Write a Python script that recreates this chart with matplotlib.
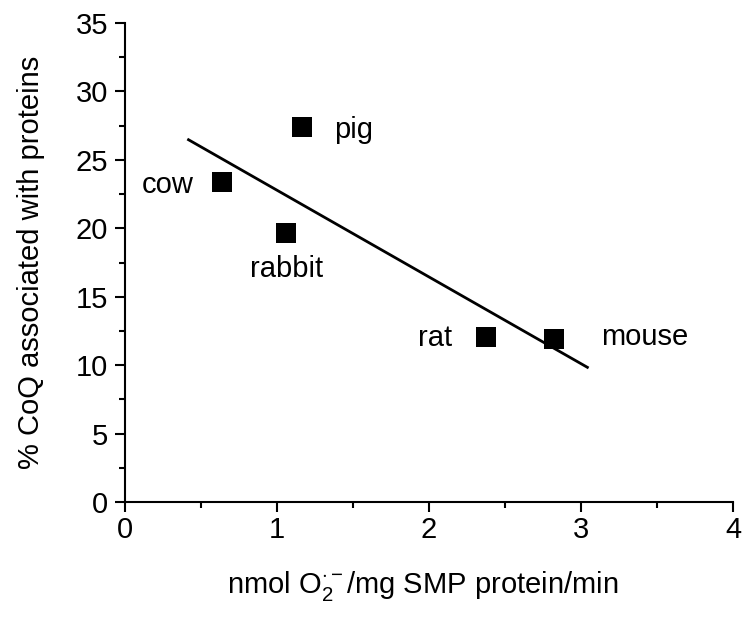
import matplotlib
matplotlib.use("Agg")
import matplotlib.pyplot as plt
from matplotlib.ticker import MultipleLocator

plt.rcParams['font.family'] = ['Liberation Sans', 'DejaVu Sans']
plt.rcParams['mathtext.fontset'] = 'custom'
plt.rcParams['mathtext.rm'] = 'Liberation Sans'
plt.rcParams['mathtext.it'] = 'Liberation Sans:italic'
plt.rcParams['mathtext.bf'] = 'Liberation Sans:bold'

# Data
species = ["cow", "pig", "rabbit", "rat", "mouse"]
x_vals = [0.638, 1.164, 1.061, 2.377, 2.822]
y_vals = [23.40, 27.40, 19.67, 12.06, 11.91]
fit_x = [0.41, 3.05]
fit_y = [26.52, 9.79]
x_ticks = [0, 1, 2, 3, 4]
y_ticks = [0, 5, 10, 15, 20, 25, 30, 35]

# label offsets (pixels) relative to each point
label_offsets = {"cow": (-54, -3), "pig": (52, -3), "rabbit": (0, -36),
                 "rat": (-51, -1), "mouse": (91, 2)}

FS = 21

fig = plt.figure(figsize=(7.51, 6.21), dpi=100)
ax = fig.add_axes([125/751, 119/621, 608/751, 479/621])

ax.plot(fit_x, fit_y, color='black', lw=2.0, solid_capstyle='butt')
ax.plot(x_vals, y_vals, linestyle='none', marker='s', markersize=15,
        color='black', markeredgewidth=0)

for name, xv, yv in zip(species, x_vals, y_vals):
    dx, dy = label_offsets[name]
    ax.annotate(name, (xv, yv), xytext=(dx, dy), textcoords='offset pixels',
                ha='center', va='center', fontsize=FS)

ax.set_xlim(0, 4)
ax.set_ylim(0, 35)
ax.set_xticks(x_ticks)
ax.set_yticks(y_ticks)
ax.xaxis.set_minor_locator(MultipleLocator(0.5))
ax.yaxis.set_minor_locator(MultipleLocator(2.5))

for s in ['top', 'right']:
    ax.spines[s].set_visible(False)
for s in ['left', 'bottom']:
    ax.spines[s].set_linewidth(1.5)

ax.tick_params(which='major', direction='out', length=7, width=1.5,
               labelsize=FS, pad=3)
ax.tick_params(axis='y', which='major', pad=5)
ax.tick_params(which='minor', direction='out', length=4, width=1.5)

ax.set_xlabel(r'nmol $\mathrm{O}_2^{\cdot-}$/mg SMP protein/min', fontsize=FS,
              labelpad=18, x=0.489)
ax.set_ylabel('% CoQ associated with proteins', fontsize=FS, labelpad=22)

fig.savefig('out.png', dpi=100)
